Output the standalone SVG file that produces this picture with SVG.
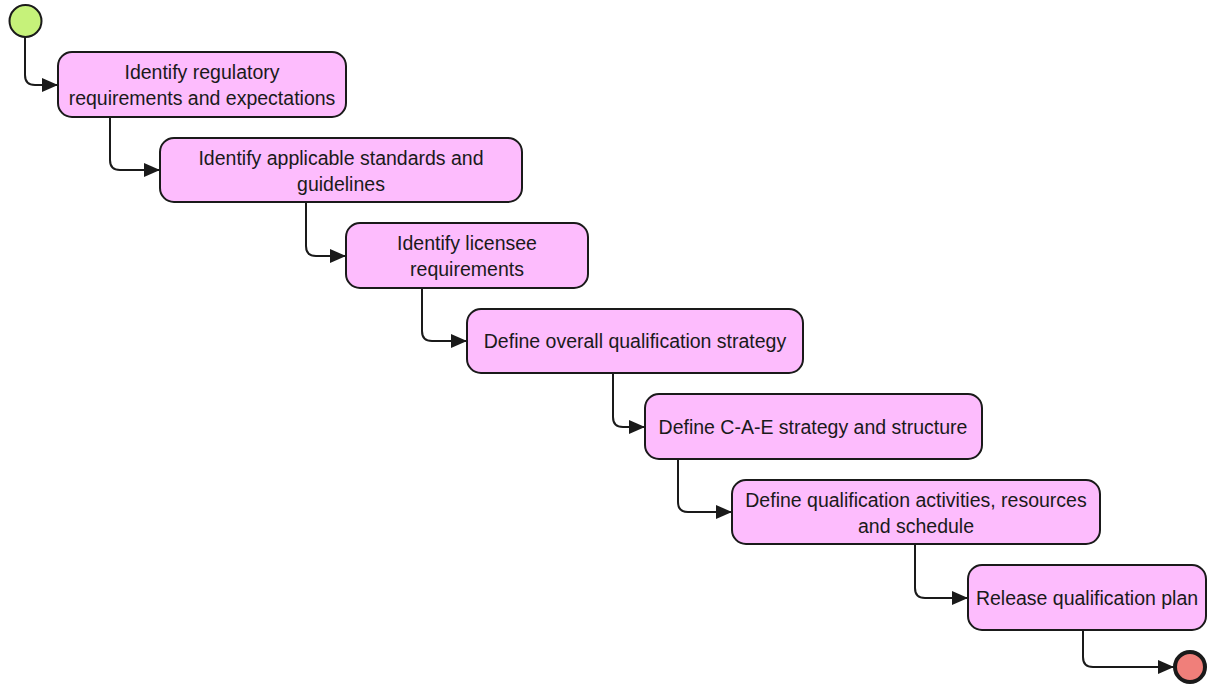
<svg xmlns="http://www.w3.org/2000/svg" width="1208" height="686" viewBox="0 0 1208 686">
  <style>
    .step { fill: #fdbcfd; stroke: #1a1a1a; stroke-width: 2; }
    .lbl { font-family: "Liberation Sans", Arial, sans-serif; font-size: 19.5px; fill: #1a1a1a; text-anchor: middle; }
    .flow { fill: none; stroke: #1a1a1a; stroke-width: 2; marker-end: url(#arrow); }
  </style>
  <defs>
    <marker id="arrow" viewBox="0 0 16 14" refX="16" refY="7" markerWidth="16" markerHeight="14" markerUnits="userSpaceOnUse" orient="auto">
      <path d="M0,0 L16,7 L0,14 Z" fill="#1a1a1a"/>
    </marker>
  </defs>
  <rect width="1208" height="686" fill="#ffffff"/>

  <g id="connectors">
    <path class="flow" d="M25,37 V75 Q25,85 35,85 H58"/>
    <path class="flow" d="M110,117 V160 Q110,170 120,170 H160"/>
    <path class="flow" d="M306,202 V246 Q306,256 316,256 H346"/>
    <path class="flow" d="M422,288 V331 Q422,341 432,341 H467"/>
    <path class="flow" d="M613,373 V417 Q613,427 623,427 H645"/>
    <path class="flow" d="M678,459 V502 Q678,512 688,512 H732"/>
    <path class="flow" d="M915,544 V588 Q915,598 925,598 H968"/>
    <path class="flow" d="M1083,630 V657 Q1083,667 1093,667 H1174"/>
  </g>

  <g id="start">
    <circle cx="25.5" cy="21" r="16" fill="#c6f27a" stroke="#1a1a1a" stroke-width="2"/>
  </g>

  <g id="step1">
    <rect class="step" x="58" y="52" width="288" height="65" rx="14"/>
    <text class="lbl" x="202" y="79">Identify regulatory</text>
    <text class="lbl" x="202" y="105">requirements and expectations</text>
  </g>

  <g id="step2">
    <rect class="step" x="160" y="138" width="362" height="64" rx="14"/>
    <text class="lbl" x="341" y="165">Identify applicable standards and</text>
    <text class="lbl" x="341" y="191">guidelines</text>
  </g>

  <g id="step3">
    <rect class="step" x="346" y="223" width="242" height="65" rx="14"/>
    <text class="lbl" x="467" y="250">Identify licensee</text>
    <text class="lbl" x="467" y="276">requirements</text>
  </g>

  <g id="step4">
    <rect class="step" x="467" y="309" width="336" height="64" rx="14"/>
    <text class="lbl" x="635" y="348">Define overall qualification strategy</text>
  </g>

  <g id="step5">
    <rect class="step" x="645" y="394" width="337" height="65" rx="14"/>
    <text class="lbl" x="813" y="434">Define C-A-E strategy and structure</text>
  </g>

  <g id="step6">
    <rect class="step" x="732" y="480" width="368" height="64" rx="14"/>
    <text class="lbl" x="916" y="507">Define qualification activities, resources</text>
    <text class="lbl" x="916" y="533">and schedule</text>
  </g>

  <g id="step7">
    <rect class="step" x="968" y="565" width="238" height="65" rx="14"/>
    <text class="lbl" x="1087" y="605">Release qualification plan</text>
  </g>

  <g id="end">
    <circle cx="1190" cy="667" r="15" fill="#f07f7a" stroke="#1a1a1a" stroke-width="4"/>
  </g>
</svg>
